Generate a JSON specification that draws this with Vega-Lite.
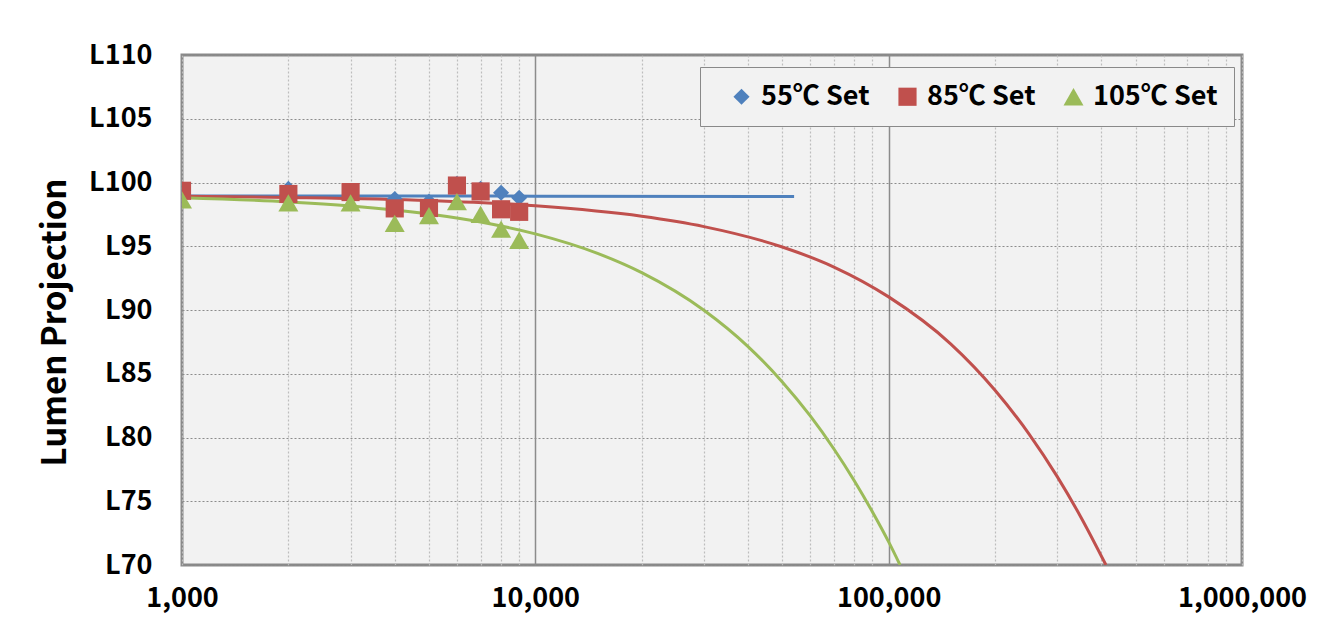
{
  "$schema": "https://vega.github.io/schema/vega-lite/v6.json",
  "width": 1060,
  "height": 510,
  "autosize": {"type": "none"},
  "padding": {"left": 182, "top": 55, "right": 91, "bottom": 62},
  "background": "white",
  "config": {
    "font": "Noto Sans CJK KR",
    "view": {"fill": "#f2f2f2", "stroke": "#898989", "strokeWidth": 3}
  },
  "datasets": {
    "points": [
      {"hours": 1000, "lumen": 99.3, "series": "55℃ Set"},
      {"hours": 2000, "lumen": 99.5, "series": "55℃ Set"},
      {"hours": 3000, "lumen": 99.3, "series": "55℃ Set"},
      {"hours": 4000, "lumen": 98.7, "series": "55℃ Set"},
      {"hours": 5000, "lumen": 98.5, "series": "55℃ Set"},
      {"hours": 6000, "lumen": 99.9, "series": "55℃ Set"},
      {"hours": 7000, "lumen": 99.5, "series": "55℃ Set"},
      {"hours": 8000, "lumen": 99.2, "series": "55℃ Set"},
      {"hours": 9000, "lumen": 98.8, "series": "55℃ Set"},
      {"hours": 1000, "lumen": 99.35, "series": "85℃ Set"},
      {"hours": 2000, "lumen": 99.1, "series": "85℃ Set"},
      {"hours": 3000, "lumen": 99.25, "series": "85℃ Set"},
      {"hours": 4000, "lumen": 97.97, "series": "85℃ Set"},
      {"hours": 5000, "lumen": 98.0, "series": "85℃ Set"},
      {"hours": 6000, "lumen": 99.76, "series": "85℃ Set"},
      {"hours": 7000, "lumen": 99.3, "series": "85℃ Set"},
      {"hours": 8000, "lumen": 97.9, "series": "85℃ Set"},
      {"hours": 9000, "lumen": 97.7, "series": "85℃ Set"},
      {"hours": 1000, "lumen": 98.64, "series": "105℃ Set"},
      {"hours": 2000, "lumen": 98.4, "series": "105℃ Set"},
      {"hours": 3000, "lumen": 98.4, "series": "105℃ Set"},
      {"hours": 4000, "lumen": 96.8, "series": "105℃ Set"},
      {"hours": 5000, "lumen": 97.4, "series": "105℃ Set"},
      {"hours": 6000, "lumen": 98.5, "series": "105℃ Set"},
      {"hours": 7000, "lumen": 97.5, "series": "105℃ Set"},
      {"hours": 8000, "lumen": 96.35, "series": "105℃ Set"},
      {"hours": 9000, "lumen": 95.47, "series": "105℃ Set"}
    ],
    "fits": [
      {"hours": 1000, "lumen": 98.95, "series": "55℃ Set"},
      {"hours": 10000, "lumen": 98.93, "series": "55℃ Set"},
      {"hours": 54000, "lumen": 98.9, "series": "55℃ Set"},
      {"hours": 1000, "lumen": 98.92, "series": "85℃ Set"},
      {"hours": 2000, "lumen": 98.83, "series": "85℃ Set"},
      {"hours": 5000, "lumen": 98.59, "series": "85℃ Set"},
      {"hours": 10000, "lumen": 98.17, "series": "85℃ Set"},
      {"hours": 20000, "lumen": 97.35, "series": "85℃ Set"},
      {"hours": 30000, "lumen": 96.54, "series": "85℃ Set"},
      {"hours": 50000, "lumen": 94.94, "series": "85℃ Set"},
      {"hours": 70000, "lumen": 93.37, "series": "85℃ Set"},
      {"hours": 100000, "lumen": 91.03, "series": "85℃ Set"},
      {"hours": 150000, "lumen": 87.33, "series": "85℃ Set"},
      {"hours": 200000, "lumen": 83.71, "series": "85℃ Set"},
      {"hours": 250000, "lumen": 80.25, "series": "85℃ Set"},
      {"hours": 300000, "lumen": 76.93, "series": "85℃ Set"},
      {"hours": 350000, "lumen": 73.75, "series": "85℃ Set"},
      {"hours": 412000, "lumen": 70.0, "series": "85℃ Set"},
      {"hours": 1000, "lumen": 98.8, "series": "105℃ Set"},
      {"hours": 2000, "lumen": 98.48, "series": "105℃ Set"},
      {"hours": 3000, "lumen": 98.16, "series": "105℃ Set"},
      {"hours": 5000, "lumen": 97.53, "series": "105℃ Set"},
      {"hours": 7000, "lumen": 96.9, "series": "105℃ Set"},
      {"hours": 10000, "lumen": 95.97, "series": "105℃ Set"},
      {"hours": 15000, "lumen": 94.44, "series": "105℃ Set"},
      {"hours": 20000, "lumen": 92.93, "series": "105℃ Set"},
      {"hours": 30000, "lumen": 89.98, "series": "105℃ Set"},
      {"hours": 40000, "lumen": 87.13, "series": "105℃ Set"},
      {"hours": 50000, "lumen": 84.36, "series": "105℃ Set"},
      {"hours": 60000, "lumen": 81.69, "series": "105℃ Set"},
      {"hours": 70000, "lumen": 79.1, "series": "105℃ Set"},
      {"hours": 80000, "lumen": 76.59, "series": "105℃ Set"},
      {"hours": 90000, "lumen": 74.16, "series": "105℃ Set"},
      {"hours": 100000, "lumen": 71.81, "series": "105℃ Set"},
      {"hours": 107700, "lumen": 70.0, "series": "105℃ Set"}
    ]
  },
  "encoding": {
    "x": {
      "field": "hours",
      "type": "quantitative",
      "scale": {"type": "log", "domain": [1000, 1000000], "nice": false},
      "axis": {
        "title": null,
        "domain": false,
        "ticks": false,
        "values": [1000, 2000, 3000, 4000, 5000, 6000, 7000, 8000, 9000, 10000, 20000, 30000, 40000, 50000, 60000, 70000, 80000, 90000, 100000, 200000, 300000, 400000, 500000, 600000, 700000, 800000, 900000, 1000000],
        "labelExpr": "(datum.value == 1000 || datum.value == 10000 || datum.value == 100000 || datum.value == 1000000) ? format(datum.value, ',') : ''",
        "labelOverlap": false,
        "labelFlush": false,
        "labelFont": "Noto Sans CJK KR",
        "labelFontWeight": "bold",
        "labelFontSize": 27,
        "labelColor": "black",
        "labelPadding": 20,
        "grid": true,
        "gridColor": {"condition": {"test": "datum.value == 10000 || datum.value == 100000", "value": "#8c8c8c"}, "value": "#bdbdbd"},
        "gridDash": {"condition": {"test": "datum.value == 10000 || datum.value == 100000", "value": []}, "value": [2, 2]},
        "gridWidth": {"condition": {"test": "datum.value == 10000 || datum.value == 100000", "value": 1.5}, "value": 1.2}
      }
    },
    "y": {
      "field": "lumen",
      "type": "quantitative",
      "scale": {"domain": [70, 110], "nice": false, "zero": false},
      "axis": {
        "title": "Lumen Projection",
        "values": [70, 75, 80, 85, 90, 95, 100, 105, 110],
        "labelExpr": "'L' + datum.value",
        "domain": false,
        "ticks": false,
        "labelFont": "Noto Sans CJK KR",
        "labelFontWeight": "bold",
        "labelFontSize": 27,
        "labelColor": "black",
        "labelPadding": 30,
        "grid": true,
        "gridColor": "#8c8c8c",
        "gridDash": [2, 2],
        "gridWidth": 1.2,
        "titleFont": "Noto Sans CJK KR",
        "titleFontWeight": "bold",
        "titleFontSize": 33,
        "titleColor": "black",
        "titleX": -127,
        "titleY": 267,
        "titleAngle": 270,
        "titleAlign": "center",
        "titleBaseline": "middle"
      }
    }
  },
  "layer": [
    {
      "data": {"name": "fits"},
      "transform": [{"filter": "datum.series == '55℃ Set'"}],
      "mark": {"type": "line", "strokeWidth": 3, "color": "#4f81bd", "clip": true},
      "encoding": {}
    },
    {
      "data": {"name": "fits"},
      "transform": [{"filter": "datum.series == '85℃ Set'"}],
      "mark": {"type": "line", "strokeWidth": 3, "color": "#c0504d", "interpolate": "monotone", "clip": true},
      "encoding": {}
    },
    {
      "data": {"name": "fits"},
      "transform": [{"filter": "datum.series == '105℃ Set'"}],
      "mark": {"type": "line", "strokeWidth": 3, "color": "#9bbb59", "interpolate": "monotone", "clip": true},
      "encoding": {}
    },
    {
      "data": {"name": "points"},
      "mark": {"type": "point", "filled": true, "opacity": 1, "clip": true},
      "encoding": {
        "color": {
          "field": "series",
          "type": "nominal",
          "scale": {"domain": ["55℃ Set", "85℃ Set", "105℃ Set"], "range": ["#4f81bd", "#c0504d", "#9bbb59"]},
          "legend": {
            "title": null,
            "orient": "none",
            "direction": "horizontal",
            "legendX": 518,
            "legendY": 12,
            "fillColor": "#f2f2f2",
            "strokeColor": "#898989",
            "padding": 16,
            "labelFont": "Noto Sans CJK KR",
            "labelFontWeight": "bold",
            "labelFontSize": 27,
            "labelColor": "black",
            "labelOffset": 6,
            "symbolSize": 300,
            "symbolOffset": 12,
            "columnPadding": 12,
            "symbolOpacity": 1
          }
        },
        "shape": {
          "field": "series",
          "type": "nominal",
          "scale": {"domain": ["55℃ Set", "85℃ Set", "105℃ Set"], "range": ["diamond", "square", "triangle-up"]}
        },
        "size": {
          "field": "series",
          "type": "nominal",
          "scale": {"domain": ["55℃ Set", "85℃ Set", "105℃ Set"], "range": [260, 400, 420]},
          "legend": null
        }
      }
    }
  ]
}
